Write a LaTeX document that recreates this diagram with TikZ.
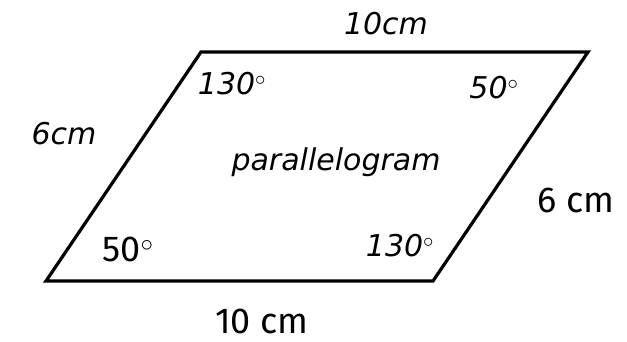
\documentclass[tikz,border=0pt]{standalone}
\usepackage{fontspec}
\setmainfont{Fira Sans}
\newfontfamily\handfont{DejaVu Sans}
\usetikzlibrary{positioning}

\begin{document}
\begin{tikzpicture}[
  x=1pt, y=-1pt,
  side/.style = {line width=3.2pt, line join=miter},
  typed/.style = {font=\fontsize{36}{38}\selectfont, inner sep=0pt},
  hand/.style = {font=\fontsize{30}{32}\handfont\itshape, inner sep=0pt}
]
\useasboundingbox (0, 0) rectangle (627, 342);

\coordinate (bl) at (46, 281);
\coordinate (br) at (433, 281);
\coordinate (tr) at (588, 52);
\coordinate (tl) at (201, 52);

% Sides
\draw[side] (bl) -- (br) -- (tr) -- (tl) -- cycle;

% Side lengths
\node[hand] (topLen) at (386, 24) {10cm};
\node[hand] (leftLen) at (64, 134) {6cm};
\node[typed] (rightLen) at (576, 200) {6 cm};
\node[typed] (bottomLen) at (262, 321) {10 cm};

% Angles
\node[hand] (angTL) at (232, 84) {130$^\circ$};
\node[hand] (angTR) at (494, 88) {50$^\circ$};
\node[typed] (angBL) at (128, 249) {50$^\circ$};
\node[hand] (angBR) at (400, 246) {130$^\circ$};

\node[hand] (name) at (336, 162) {parallelogram};
\end{tikzpicture}
\end{document}
